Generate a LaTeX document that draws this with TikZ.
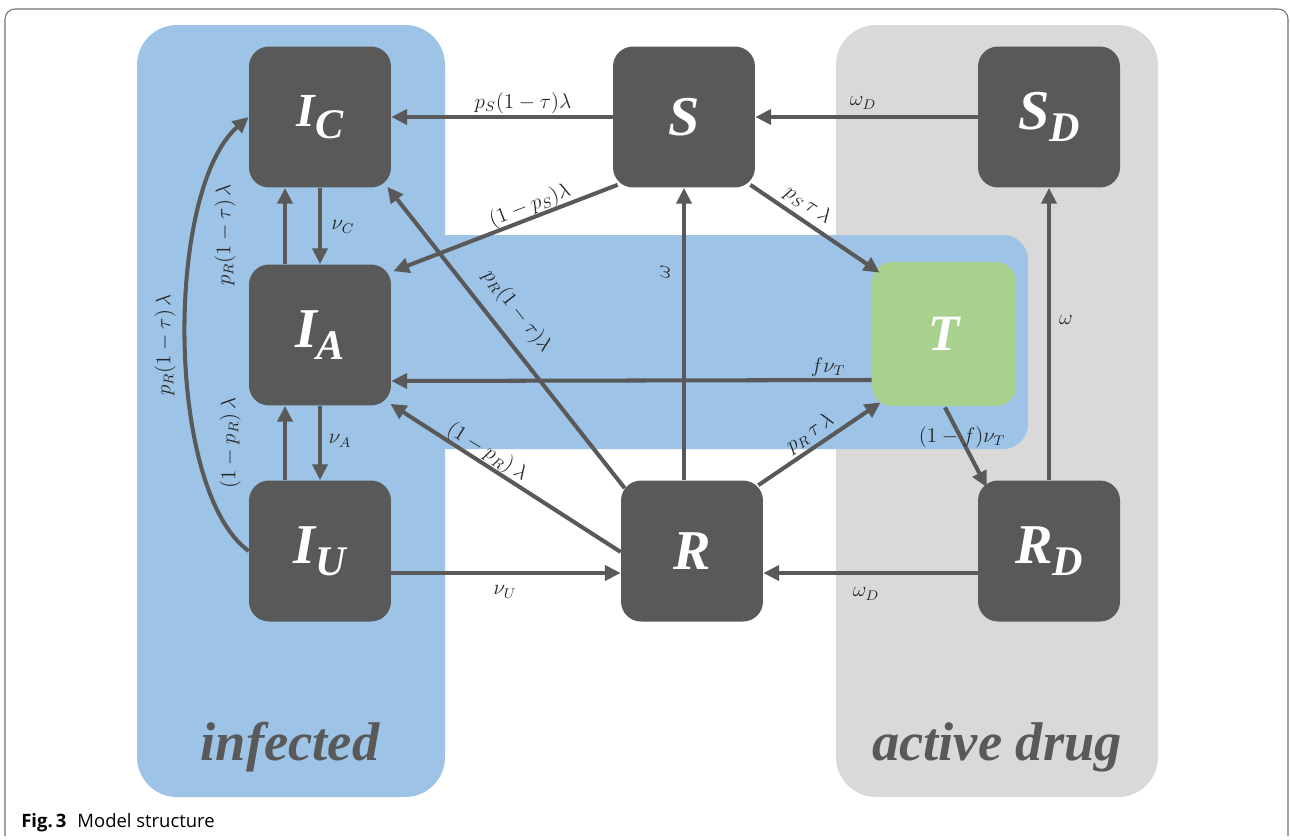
\documentclass[tikz,border=0pt]{standalone}
\usepackage{amsmath}
\usepackage{fontspec}
\usepackage{tikz}
\usetikzlibrary{arrows.meta,positioning,calc}
\newfontfamily\boxfont{Liberation Serif}
\newfontfamily\capfont{Open Sans}
\definecolor{boxgray}{HTML}{595959}
\definecolor{infblue}{HTML}{9DC3E6}
\definecolor{druggray}{HTML}{D9D9D9}
\definecolor{treatgreen}{HTML}{A9D18E}
\definecolor{framegray}{HTML}{6E6E6E}
\newcommand{\cmp}[2]{\raisebox{-4pt}{#1\raisebox{-7pt}{\fontsize{24}{24}\selectfont #2}}}

\begin{document}
\begin{tikzpicture}[x=0.02cm,y=-0.02cm,
    compbox/.style={fill=boxgray,rounded corners=0.4cm,minimum width=2.84cm,minimum height=2.82cm,inner sep=0pt,text=white,font=\boxfont\bfseries\itshape\fontsize{32}{32}\selectfont},
    flow/.style={boxgray,line width=2.3pt,-{Triangle[length=9pt,width=8.5pt]}},
    rate/.style={text=black!85,font=\fontsize{12}{14}\selectfont,inner sep=1pt},
    grp/.style={text=boxgray,font=\boxfont\bfseries\itshape\fontsize{31}{31}\selectfont}]
    \useasboundingbox (0,0) rectangle (1290,839);
    % frame
    \draw[framegray,line width=0.6pt,rounded corners=0.2cm] (5,836) -- (5,9) -- (1288,9) -- (1288,836);
    % groups
    \fill[infblue,rounded corners=0.8cm] (137,25) rectangle (445,797);
    \fill[druggray,rounded corners=0.8cm] (836,25) rectangle (1158,797);
    \fill[infblue,rounded corners=0.5cm] (420,235) rectangle (1028,449);
    % compartments
    \node[compbox] (IC) at (320,117) {\cmp{\fontsize{27}{27}\selectfont I}{C}};
    \node[compbox] (IA) at (320,335) {\cmp{I}{A}};
    \node[compbox] (IU) at (320,551) {\cmp{I}{U}};
    \node[compbox] (S) at (684,117) {\raisebox{-2pt}{S}};
    \node[compbox] (R) at (692,551) {\raisebox{-2pt}{R}};
    \node[compbox] (SD) at (1049,117) {\cmp{S}{D}};
    \node[compbox] (RD) at (1049,551) {\cmp{R}{D}};
    \node[compbox,fill=treatgreen,minimum width=2.88cm,minimum height=2.88cm] (T) at (944,334) {\fontsize{29}{29}\selectfont T};
    % connectors
    \draw[flow] (S.west) -- (IC.east);
    \draw[flow] (SD.west) -- (S.east);
    \draw[flow] (IC.south) -- (IA.north);
    \draw[flow] ($(IA.north)+(-35,0)$) -- ($(IC.south)+(-35,0)$);
    \draw[flow] (IA.south) -- (IU.north);
    \draw[flow] ($(IU.north)+(-35,0)$) -- ($(IA.south)+(-35,0)$);
    \draw[flow] (IU.west) .. controls (165,490) and (165,190) .. (IC.west);
    \draw[flow] ($(IU.east)+(0,22)$) -- ($(R.west)+(0,22)$);
    \draw[flow] ($(RD.west)+(0,22)$) -- ($(R.east)+(0,22)$);
    \draw[flow] ($(R.north)+(-8,0)$) -- (S.south);
    \draw[flow] (RD.north) -- (SD.south);
    \draw[flow] ($(S.south west)+(5,-3)$) -- ($(IA.north east)+(2,7)$);
    \draw[flow] ($(S.south east)+(-5,-3)$) -- ($(T.north west)+(8,11)$);
    \draw[flow] ($(R.north west)+(4,8)$) -- ($(IC.south east)+(-4,-1)$);
    \draw[flow] ($(R.west)+(0,1)$) -- ($(IA.south east)+(-1,-2)$);
    \draw[flow] ($(R.north east)+(-5,5)$) -- ($(T.south west)+(9,-4)$);
    \draw[flow] ($(T.west)+(0,46)$) -- ($(IA.east)+(0,46)$);
    \draw[flow] ($(T.south)+(1,1)$) -- ($(RD.north west)+(9,7)$);
    % rates
    \node[rate] (lSIC) at (523,103) {$p_S(1-\tau)\lambda$};
    \node[rate] (lSDS) at (863,103) {$\omega_D$};
    \node[rate] (lICIA) at (343,227) {$\nu_C$};
    \node[rate] (lIAIU) at (340,441) {$\nu_A$};
    \node[rate,rotate=90] (lIAIC) at (225,235) {$p_R(1-\tau)\,\lambda$};
    \node[rate,rotate=90] (lIUIA) at (230,443) {$(1-p_R)\,\lambda$};
    \node[rate,rotate=90] (lIUIC) at (165,345) {$p_R(1-\tau)\,\lambda$};
    \node[rate,rotate=90] (lRS) at (665,272) {$\omega$};
    \node[rate,rotate=21] (lSIA) at (530,206) {$(1-p_S)\lambda$};
    \node[rate,rotate=-34] (lST) at (808,205) {$p_S\,\tau\,\lambda$};
    \node[rate,rotate=-52] (lRIC) at (517,311) {$p_R(1-\tau)\lambda$};
    \node[rate,rotate=-32] (lRIA) at (487,452) {$(1-p_R)\,\lambda$};
    \node[rate,rotate=34] (lRT) at (810,433) {$p_R\,\tau\,\lambda$};
    \node[rate] (lTIA) at (828,367) {$f\nu_T$};
    \node[rate] (lTRD) at (962,437) {$(1-f)\nu_T$};
    \node[rate] (lIUR) at (505,592) {$\nu_U$};
    \node[rate] (lRDR) at (866,594) {$\omega_D$};
    \node[rate] (lRDSD) at (1066,320) {$\omega$};
    % group names
    \node[grp,anchor=base] (inf) at (290,760) {infected};
    \node[grp,anchor=base] (drug) at (997,760) {active drug};
    % caption
    \node[anchor=base west,inner sep=0pt,font=\capfont\fontsize{10.5}{12}\selectfont] (cap) at (21,827) {\textbf{Fig.\,3}\hspace{0.6em}Model structure};
\end{tikzpicture}
\end{document}
